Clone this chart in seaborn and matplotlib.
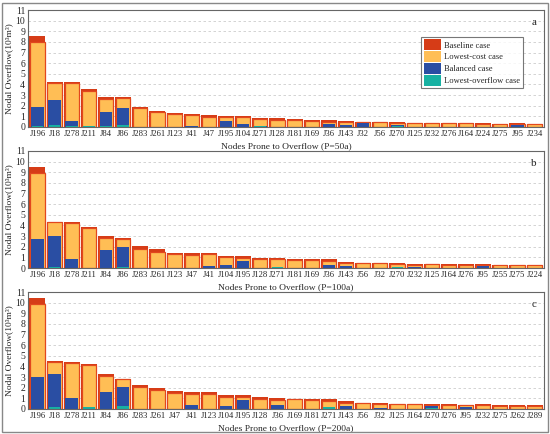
import matplotlib
matplotlib.use("Agg")
import matplotlib.pyplot as plt
from matplotlib.patches import Patch, Rectangle
import seaborn as sns
import pandas as pd

# ---- data (10^3 m^3) ----
nodes_50 = ["J196", "J18", "J278", "J211", "J84", "J86", "J283", "J261", "J123", "J41",
            "J47", "J195", "J104", "J271", "J128", "J181", "J169", "J36", "J143", "J32",
            "J56", "J270", "J125", "J232", "J276", "J164", "J224", "J275", "J95", "J234"]
baseline_50 = [8.6, 4.25, 4.2, 3.55, 2.8, 2.8, 1.85, 1.55, 1.3, 1.25,
               1.15, 1.0, 1.0, 0.85, 0.8, 0.75, 0.7, 0.65, 0.6, 0.5,
               0.5, 0.5, 0.4, 0.4, 0.4, 0.4, 0.35, 0.3, 0.35, 0.3]
lowcost_50 = [7.95, 4.15, 4.1, 3.4, 2.6, 2.75, 1.75, 1.4, 1.2, 1.1,
              0.9, 0.9, 0.9, 0.75, 0.7, 0.65, 0.6, 0.5, 0.5, 0.45,
              0.45, 0.4, 0.35, 0.35, 0.35, 0.35, 0.3, 0.3, 0.3, 0.3]
balanced_50 = [1.9, 2.55, 0.55, 0.1, 1.4, 1.8, 0, 0, 0, 0.1,
               0, 0.55, 0.25, 0.05, 0, 0, 0, 0.25, 0.2, 0.35,
               0, 0.2, 0, 0, 0, 0, 0, 0, 0.15, 0]
lowover_50 = [0.05, 0.15, 0.05, 0.05, 0.05, 0.2, 0, 0, 0, 0,
              0, 0, 0, 0.05, 0, 0, 0, 0, 0, 0,
              0, 0.1, 0, 0, 0, 0, 0, 0, 0, 0]

nodes_100 = ["J196", "J18", "J278", "J211", "J84", "J86", "J283", "J261", "J123", "J47",
             "J41", "J104", "J195", "J128", "J271", "J181", "J169", "J36", "J143", "J56",
             "J32", "J270", "J232", "J125", "J164", "J276", "J95", "J255", "J275", "J224"]
baseline_100 = [9.5, 4.35, 4.35, 3.9, 3.0, 2.8, 2.05, 1.75, 1.45, 1.4,
                1.4, 1.15, 1.15, 0.95, 0.9, 0.85, 0.85, 0.8, 0.6, 0.5,
                0.5, 0.45, 0.4, 0.4, 0.35, 0.35, 0.35, 0.3, 0.3, 0.3]
lowcost_100 = [8.9, 4.3, 4.2, 3.75, 2.8, 2.7, 1.8, 1.55, 1.3, 1.25,
               1.35, 1.0, 0.95, 0.85, 0.8, 0.75, 0.75, 0.65, 0.5, 0.45,
               0.45, 0.35, 0.3, 0.35, 0.3, 0.3, 0.3, 0.25, 0.25, 0.25]
balanced_100 = [2.75, 3.0, 0.85, 0, 1.65, 2.0, 0, 0, 0, 0,
                0.15, 0.3, 0.65, 0, 0, 0, 0, 0.3, 0.2, 0,
                0, 0, 0.1, 0, 0, 0, 0.15, 0, 0, 0]
lowover_100 = [0, 0.05, 0, 0, 0, 0.05, 0, 0, 0, 0,
               0, 0, 0, 0, 0.05, 0, 0, 0, 0, 0,
               0, 0.05, 0, 0, 0, 0, 0, 0, 0, 0]

nodes_200 = ["J196", "J18", "J278", "J211", "J84", "J86", "J283", "J261", "J47", "J41",
             "J123", "J104", "J195", "J128", "J36", "J169", "J181", "J271", "J143", "J56",
             "J32", "J125", "J164", "J270", "J276", "J95", "J232", "J275", "J262", "J289"]
baseline_200 = [10.4, 4.5, 4.45, 4.25, 3.3, 2.85, 2.3, 1.95, 1.7, 1.6,
                1.6, 1.3, 1.3, 1.1, 1.0, 0.95, 0.95, 0.9, 0.75, 0.6,
                0.55, 0.5, 0.5, 0.5, 0.45, 0.4, 0.45, 0.4, 0.4, 0.35]
lowcost_200 = [9.85, 4.45, 4.3, 4.1, 3.1, 2.8, 2.1, 1.75, 1.55, 1.45,
               1.45, 1.15, 1.15, 0.95, 0.85, 0.9, 0.85, 0.75, 0.6, 0.55,
               0.5, 0.45, 0.45, 0.4, 0.4, 0.35, 0.35, 0.3, 0.3, 0.3]
balanced_200 = [3.0, 3.25, 1.05, 0.05, 1.6, 2.05, 0, 0, 0, 0.35,
                0, 0.3, 0.8, 0, 0.35, 0, 0, 0, 0.25, 0,
                0.1, 0, 0, 0.3, 0, 0.2, 0, 0, 0, 0]
lowover_200 = [0, 0.15, 0, 0.15, 0, 0.25, 0, 0, 0, 0,
               0, 0, 0, 0, 0, 0, 0, 0.15, 0, 0,
               0, 0, 0, 0.05, 0, 0, 0, 0, 0, 0]

case_names = ["Baseline case", "Lowest-cost case", "Balanced case", "Lowest-overflow case"]
case_colors = ["#D63C17", "#FFBE55", "#2A4EA3", "#17B1A2"]
case_widths = [0.94, 0.84, 0.74, 0.68]
# lowest-cost bars carry a thin red outline, like the reference
case_edges = [None, "#E2471E", None, None]

panels = [
    ("a", "P=50a", nodes_50, [baseline_50, lowcost_50, balanced_50, lowover_50]),
    ("b", "P=100a", nodes_100, [baseline_100, lowcost_100, balanced_100, lowover_100]),
    ("c", "P=200a", nodes_200, [baseline_200, lowcost_200, balanced_200, lowover_200]),
]

sns.set_style("white")
plt.rcParams["font.family"] = ["Liberation Serif", "DejaVu Serif"]

fig = plt.figure(figsize=(5.5, 4.34), dpi=100)
fig.patches.append(Rectangle((0.004, 0.004), 0.992, 0.99, transform=fig.transFigure,
                             fill=False, edgecolor="#888888", linewidth=1.0))

W, H = 550, 434
ax_tops = [10, 151, 292]
ax_h = 117
left, right = 28, 544

for (letter, period, nodes, series), top in zip(panels, ax_tops):
    ax = fig.add_axes([left / W, 1 - (top + ax_h) / H, (right - left) / W, ax_h / H])
    df = pd.DataFrame({"node": nodes})
    for name, vals, col, wd, ec in zip(case_names, series, case_colors, case_widths, case_edges):
        df[name] = vals
        kw = dict(edgecolor=ec, linewidth=0.9) if ec else dict(linewidth=0)
        sns.barplot(data=df, x="node", y=name, order=nodes, color=col, width=wd,
                    saturation=1, errorbar=None, ax=ax, zorder=2, **kw)
    ax.set_xlim(-0.55, len(nodes) - 0.45)
    ax.set_ylim(0, 11)
    ax.set_yticks(range(0, 12))
    ax.yaxis.grid(True, linestyle=(0, (3, 3)), color="#cccccc", linewidth=0.6, zorder=0)
    ax.set_axisbelow(True)
    ax.tick_params(axis="y", labelsize=7, length=0, pad=2)
    ax.tick_params(axis="x", labelsize=6.2, length=0, pad=2)
    ax.set_xlabel(f"Nodes Prone to Overflow ({period})", fontsize=6.8)
    ax.set_ylabel("Nodal Overflow(10³m³)", fontsize=6.8, labelpad=2)
    ax.xaxis.set_label_coords(0.5, -0.13)
    for sp in ax.spines.values():
        sp.set_color("#666666")
        sp.set_linewidth(0.8)
    ax.text(0.985, 0.87, letter, transform=ax.transAxes, fontsize=8, ha="right")
    if letter == "a":
        handles = [Patch(facecolor=c, edgecolor="none") for c in case_colors]
        leg = ax.legend(handles, case_names, loc="upper left", bbox_to_anchor=(0.762, 0.77),
                        fontsize=6.1, frameon=True, fancybox=False, handlelength=2.0,
                        handleheight=1.6, borderpad=0.3, labelspacing=0.1,
                        handletextpad=0.4, borderaxespad=0)
        leg.get_frame().set_edgecolor("#555555")
        leg.get_frame().set_linewidth(0.8)

fig.savefig("out.png", dpi=100)
